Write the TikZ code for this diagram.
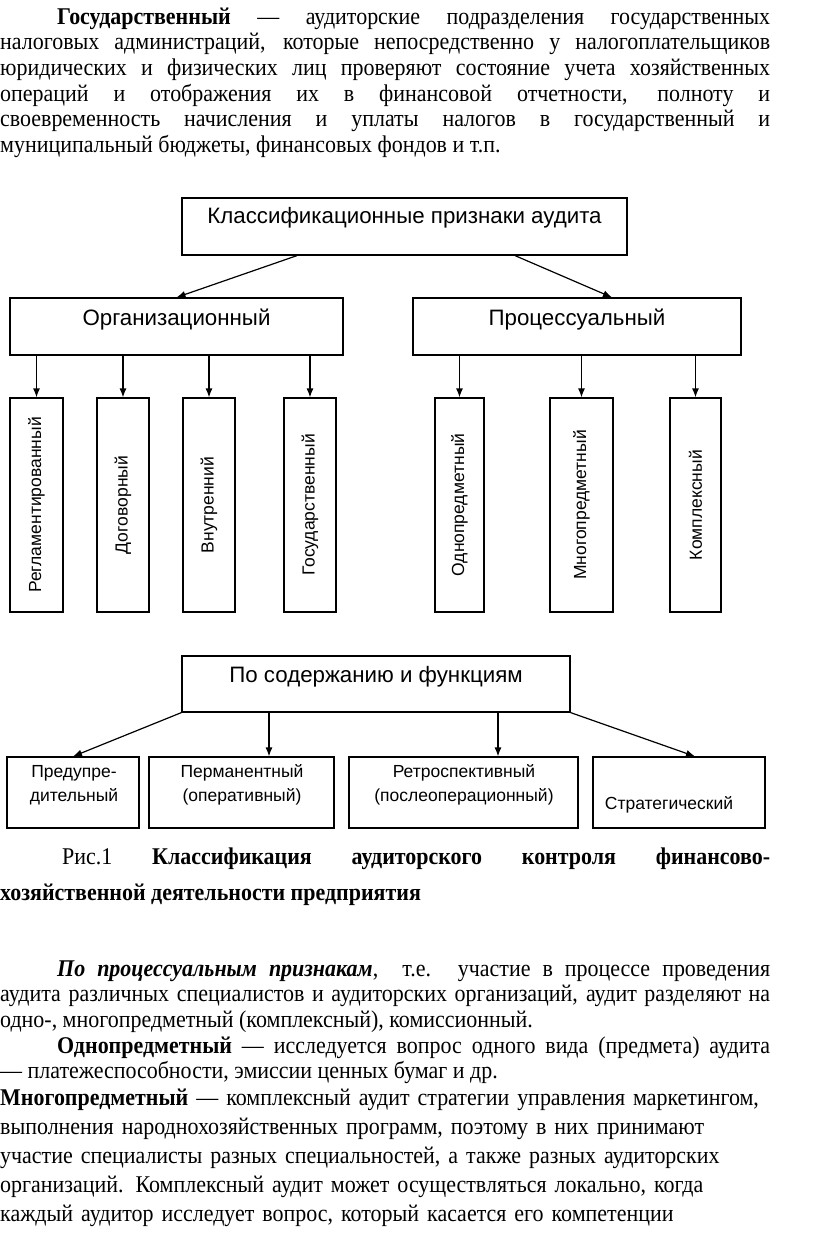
\documentclass[tikz,border=0pt]{standalone}
\usepackage{fontspec}
\setmainfont[FakeStretch=0.915]{Liberation Serif}
\setsansfont{Liberation Sans}
\usetikzlibrary{arrows.meta}

\tikzset{
  box/.style={draw, line width=1.2pt, inner sep=0pt},
  lbl/.style={font=\sffamily\fontsize{22.3}{26}\selectfont, inner sep=0pt, align=center},
  small/.style={font=\sffamily\fontsize{17.5}{24}\selectfont, inner sep=0pt, align=center},
  arr/.style={-{Latex[length=9pt,width=7pt]}, line width=1.2pt},
  para/.style={anchor=base west, inner sep=0pt, text width=770pt, align=justify,
    font=\fontsize{24}{25.7}\selectfont},
}

\begin{document}
\begin{tikzpicture}[x=1pt, y=-1pt]
\useasboundingbox (0,0) rectangle (816,1235);

% text above the figure
\node[para] (p1) at (0,24) {\hspace*{57pt}\textbf{Государственный} — аудиторские подразделения государственных\linebreak
налоговых администраций, которые непосредственно у налогоплательщиков\linebreak
юридических и физических лиц проверяют состояние учета хозяйственных\linebreak
операций и отображения их в финансовой отчетности, полноту и\linebreak
своевременность начисления и уплаты налогов в государственный и\linebreak
муниципальный бюджеты, финансовых фондов и т.п.};

% top level
\node[box, minimum width=445pt, minimum height=57pt] (top) at (404.5,226.5) {};
\node[lbl] (top-t) at (404.5,218) {Классификационные признаки аудита};
\node[box, minimum width=333pt, minimum height=57pt] (org) at (176.5,326.5) {};
\node[lbl] (org-t) at (176.5,320) {Организационный};
\node[box, minimum width=328pt, minimum height=57pt] (proc) at (577,326.5) {};
\node[lbl] (proc-t) at (577,320) {Процессуальный};
\draw[arr] ([xshift=-107.5pt]top.south) -- (org.north);
\draw[arr] ([xshift=110.5pt]top.south) -- ([xshift=35pt]proc.north);

% vertical boxes
\foreach \n/\x/\w/\p/\t in {reg/36.5/53/org/Регламентированный,
    dog/123/52/org/Договорный, vnu/209/52/org/Внутренний,
    gos/310/52/org/Государственный, odno/459.5/49/proc/Однопредметный,
    mnogo/581.5/63/proc/Многопредметный, kompl/695.5/51/proc/Комплексный} {
  \node[box, minimum width=\w pt, minimum height=214pt] (\n) at (\x,505) {};
  \node[small, rotate=90] (\n-t) at (\n) {\t};
  \draw[arr] (\n.north |- \p.south) -- (\n.north);
}

% by content
\node[box, minimum width=388pt, minimum height=56pt] (func) at (376,684) {};
\node[lbl] (func-t) at (376,677) {По содержанию и функциям};
\node[box, minimum width=132pt, minimum height=71pt] (pred) at (73,792.5) {};
\node[small] (pred-t) at (74,785) {Предупре-\\дительный};
\node[box, minimum width=185pt, minimum height=71pt] (perm) at (241.5,792.5) {};
\node[small] (perm-t) at (242,785) {Перманентный\\(оперативный)};
\node[box, minimum width=229pt, minimum height=71pt] (retr) at (463.5,792.5) {};
\node[small] (retr-t) at (464,785) {Ретроспективный\\(послеоперационный)};
\node[box, minimum width=172pt, minimum height=71pt] (strat) at (679,792.5) {};
\node[small] (strat-t) at (669,805) {Стратегический};
\draw[arr] (func.south west) -- (pred.north);
\draw[arr] ([xshift=-107pt]func.south) -- ([xshift=27.5pt]perm.north);
\draw[arr] ([xshift=122pt]func.south) -- ([xshift=34.5pt]retr.north);
\draw[arr] (func.south east) -- ([xshift=16pt]strat.north);

% caption
\node[para, font=\fontsize{24}{36}\selectfont] (cap) at (0,864) {\hspace*{62pt}Рис.1 \textbf{Классификация аудиторского контроля финансово-}\linebreak
\textbf{хозяйственной деятельности предприятия}};

% text below the figure
\node[para] (p2) at (0,976) {\hspace*{57pt}\textbf{\textit{По процессуальным признакам}},\ \ т.е. участие в процессе проведения\linebreak
аудита различных специалистов и аудиторских организаций, аудит разделяют на\linebreak
одно-, многопредметный (комплексный), комиссионный.};
\node[para] (p3) at (0,1053) {\hspace*{57pt}\textbf{Однопредметный} — исследуется вопрос одного вида (предмета) аудита\linebreak
— платежеспособности, эмиссии ценных бумаг и др.};
\node[para, align=left, font=\fontsize{24}{29}\selectfont] (p4) at (0,1105) {\textbf{Многопредметный} — комплексный аудит стратегии управления маркетингом,\\
выполнения народнохозяйственных программ, поэтому в них принимают\\
участие специалисты разных специальностей, а также разных аудиторских\\
организаций. Комплексный аудит может осуществляться локально, когда\\
каждый аудитор исследует вопрос, который касается его компетенции};
\end{tikzpicture}
\end{document}
